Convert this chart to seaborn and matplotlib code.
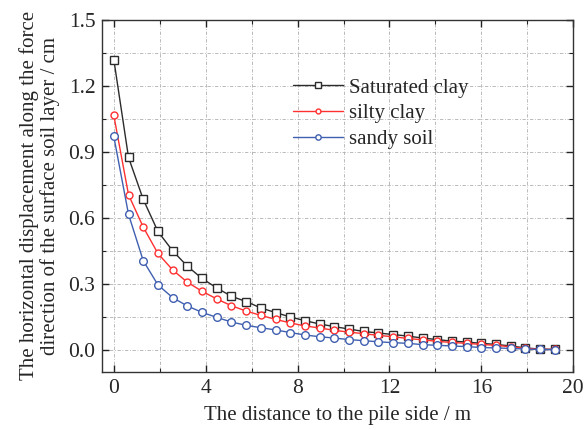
import numpy as np
import pandas as pd
import matplotlib
matplotlib.use('Agg')
import matplotlib.pyplot as plt
from matplotlib.ticker import MultipleLocator
import seaborn as sns

# data (distance step 0.64 m)
distance = [round(0.64 * i, 2) for i in range(31)]
saturated_clay = [1.32, 0.875, 0.684, 0.538, 0.45, 0.38, 0.324, 0.281, 0.243, 0.219,
                  0.19, 0.169, 0.149, 0.132, 0.117, 0.105, 0.094, 0.083, 0.076, 0.069,
                  0.062, 0.053, 0.046, 0.039, 0.035, 0.029, 0.024, 0.017, 0.008, 0.003, 0.001]
silty_clay = [1.066, 0.705, 0.558, 0.438, 0.363, 0.307, 0.266, 0.231, 0.2, 0.176,
              0.156, 0.138, 0.122, 0.108, 0.099, 0.088, 0.08, 0.073, 0.065, 0.059,
              0.051, 0.045, 0.038, 0.033, 0.029, 0.024, 0.02, 0.013, 0.006, 0.002, 0.001]
sandy_soil = [0.97, 0.616, 0.405, 0.295, 0.237, 0.199, 0.17, 0.147, 0.126, 0.111,
              0.1, 0.09, 0.078, 0.067, 0.059, 0.053, 0.046, 0.041, 0.036, 0.032,
              0.029, 0.023, 0.02, 0.017, 0.014, 0.01, 0.008, 0.006, 0.003, 0.001, 0.0]

series = [
    ("Saturated clay", saturated_clay, "#2b2b2b", "s", 5.5),
    ("silty clay", silty_clay, "#ff3030", "o", 5),
    ("sandy soil", sandy_soil, "#3f5fb0", "o", 5.5),
]

sns.set_style("ticks")
plt.rcParams['font.family'] = ['Liberation Serif', 'DejaVu Serif']

fig = plt.figure(figsize=(5.86, 4.3), dpi=100)
ax = fig.add_axes([0.1746, 0.1356, 0.8037, 0.818])

for name, vals, col, mk, ms in series:
    df = pd.DataFrame({'x': distance, 'y': vals})
    sns.lineplot(data=df, x='x', y='y', ax=ax, color=col, marker=mk, markersize=ms,
                 markerfacecolor='white', markeredgecolor=col, markeredgewidth=1.0,
                 linewidth=1.0, label=name)

ax.set_xlim(-0.5, 20)
ax.set_ylim(-0.1, 1.5)
ax.xaxis.set_major_locator(MultipleLocator(4))
ax.xaxis.set_minor_locator(MultipleLocator(2))
ax.yaxis.set_major_locator(MultipleLocator(0.3))
ax.yaxis.set_minor_locator(MultipleLocator(0.15))
ax.yaxis.set_major_formatter(matplotlib.ticker.FormatStrFormatter('%.1f'))

ax.grid(which='both', linestyle=(0, (4, 2, 1, 2)), color='#b0b0b0', linewidth=0.6)
ax.tick_params(which='both', direction='in', top=True, right=True, labelsize=15.5,
               color='#222222')
ax.tick_params(which='major', length=5, width=1, pad=5)
ax.tick_params(which='minor', length=3, width=0.8)
for sp in ax.spines.values():
    sp.set_color('#333333')
    sp.set_linewidth(1.0)

ax.set_xlabel('The distance to the pile side / m', fontsize=15, labelpad=6)
ax.set_ylabel('The horizontal displacement along the force\ndirection of the surface soil layer / cm',
              fontsize=15, linespacing=1.05, labelpad=6)

leg = ax.legend(loc='upper left', bbox_to_anchor=(0.405, 0.835), frameon=False,
                fontsize=15, markerscale=0.7, handlelength=2.4, handletextpad=0.3,
                labelspacing=0.3, borderaxespad=0, borderpad=0)

fig.savefig('out.png', dpi=100)
